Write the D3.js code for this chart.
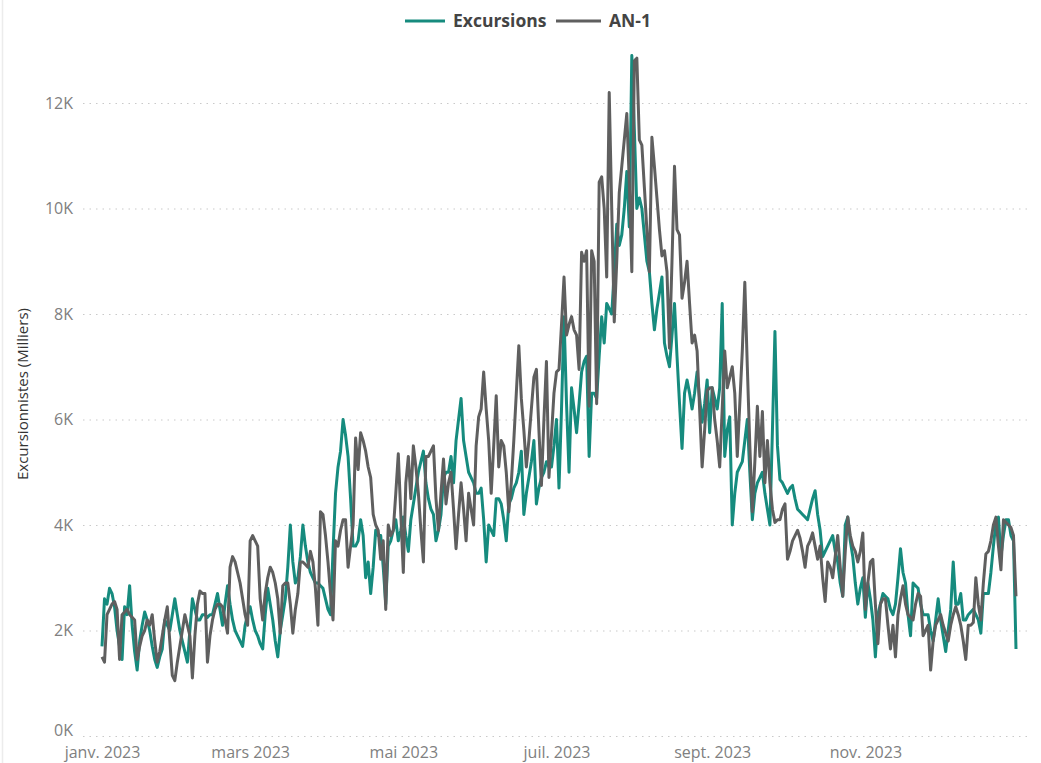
<!DOCTYPE html>
<meta charset="utf-8">
<title>Excursions vs AN-1</title>
<script src="https://cdn.jsdelivr.net/npm/d3@7"></script>
<style>
body { margin: 0; background: #fff; }
svg { display: block; }
text { font-family: "Segoe UI", "Open Sans", "Noto Sans", sans-serif; }
.grid line { stroke: #c9c9c9; stroke-width: 1.2px; stroke-dasharray: 1.5,5; }
.axis text { fill: #808080; font-size: 16px; }
.line { fill: none; stroke-width: 3px; stroke-linejoin: round; }
</style>
<body>
<script>

// daily values, 1 jan 2023 -> 31 dec 2023, in thousands (K)
var excursions = [
1.7,2.6,2.5,2.8,2.7,2.45,2.0, 1.7,1.45,2.45,2.3,2.85,2.1,1.6,
1.25,1.8,2.1,2.35,2.2,2.0,1.7, 1.45,1.3,1.5,1.65,2.2,2.1,2.0,
2.3,2.6,2.3,2.0,1.8,1.6,1.4, 2.0,2.6,2.4,2.2,2.2,2.3,2.3,
2.25,2.3,2.3,2.5,2.7,2.4,2.1, 2.5,2.85,2.5,2.2,2.0,1.9,1.8,
1.7,2.1,2.3,2.45,2.2,2.0,1.9, 1.75,1.65,2.3,2.8,2.5,2.2,1.8,
1.5,2.0,2.3,2.6,3.2,4.0,3.3, 2.9,3.0,3.4,4.0,3.6,3.3,3.1,
3.0,2.9,2.9,2.85,2.8,2.6,2.4, 2.3,3.5,4.6,5.1,5.4,6.0,5.7,
5.3,4.5,3.6,3.6,3.7,4.1,3.8, 3.0,3.3,2.7,3.2,3.9,3.8,3.8,
3.2,2.5,3.6,3.7,3.9,4.1,3.7, 3.9,4.15,3.8,3.5,4.1,4.4,4.7,
5.0,5.2,5.4,4.8,4.5,4.3,4.2, 3.7,3.9,4.2,4.9,5.0,5.0,5.3,
4.8,5.6,6.0,6.4,5.6,5.3,5.0, 4.9,4.8,4.6,4.6,4.7,4.1,3.3,
4.0,3.9,3.8,4.5,4.5,4.4,4.1, 3.7,4.4,4.5,4.7,4.8,5.0,5.4,
4.2,4.6,4.9,5.2,5.6,4.4,4.7, 4.9,5.0,5.2,5.1,5.1,5.5,6.0,
4.7,6.2,7.95,6.3,5.0,6.6,6.2, 5.75,6.3,6.9,7.1,7.2,5.3,6.5,
6.5,6.4,7.2,7.95,7.45,8.2,8.1, 8.0,8.8,9.7,9.3,9.5,10.0,10.7,
9.65,12.9,11.5,10.0,10.2,10.0,9.5, 9.0,8.8,8.2,7.7,8.1,8.4,8.7,
7.45,7.2,7.0,7.6,8.2,7.2,6.3, 5.45,6.5,6.75,6.5,6.2,6.5,6.9,
6.4,5.95,6.3,6.75,5.75,6.6,6.4, 6.2,6.6,8.2,5.3,5.8,6.05,4.0,
4.6,5.0,5.1,5.2,5.6,6.0,5.0, 4.1,4.6,4.8,4.9,5.0,4.6,4.3,
4.0,5.8,7.67,5.5,4.86,4.8,4.7, 4.6,4.7,4.75,4.5,4.3,4.25,4.2,
4.15,4.1,4.3,4.5,4.65,4.2,3.9, 3.4,3.5,3.6,3.7,3.8,3.5,3.3,
2.9,2.65,4.0,4.15,3.7,3.4,2.9, 2.5,2.8,3.0,2.25,2.9,2.6,2.2,
1.5,2.3,2.5,2.7,2.65,2.6,2.4, 2.3,2.5,3.0,3.55,3.1,2.9,2.3,
1.9,2.9,2.85,2.8,2.5,2.3,2.3, 2.3,2.0,1.8,2.2,2.6,2.2,1.9,
1.6,2.0,2.4,3.3,2.5,2.5,2.7, 2.2,2.2,2.3,2.35,2.4,2.3,2.2,
1.95,2.7,2.7,2.7,3.1,3.6,4.05, 4.15,3.4,3.8,4.1,4.1,3.8,3.7,
1.65
];

var anMoins1 = [
1.5,1.4,2.3,2.4,2.5,2.55,2.4, 1.45,2.3,2.35,2.4,2.3,2.25,2.2,
1.45,1.7,1.9,2.0,2.2,2.1,2.3, 1.8,1.4,1.6,1.9,2.2,2.45,1.8,
1.15,1.05,1.4,1.7,2.0,2.3,2.1, 1.9,1.1,1.9,2.5,2.75,2.7,2.7,
1.4,1.9,2.2,2.4,2.5,2.5,2.45, 2.2,1.95,3.2,3.4,3.3,3.1,2.9,
2.6,2.3,2.1,3.7,3.8,3.7,3.6, 2.6,2.2,2.7,3.0,3.2,3.1,2.9,
2.6,1.95,2.85,2.9,2.9,2.5,1.95, 2.4,2.7,3.3,3.3,3.25,3.2,3.5,
3.3,2.8,2.1,4.25,4.2,3.8,3.3, 2.7,2.2,3.7,3.6,3.9,4.1,4.1,
3.2,3.6,4.0,5.65,5.05,5.75,5.6, 5.4,5.1,4.9,4.2,4.0,3.9,3.35,
3.7,2.4,4.0,3.8,3.9,4.6,5.35, 4.2,3.1,4.8,5.3,4.5,5.5,5.1,
4.6,3.9,3.3,5.3,5.3,5.4,5.5, 4.5,3.9,4.6,5.25,4.4,4.8,5.0,
4.3,3.55,4.2,4.8,4.3,3.7,4.6, 4.3,4.0,5.5,6.05,6.2,6.9,6.2,
5.6,4.6,5.5,6.45,5.1,5.6,5.5, 5.0,4.25,4.8,5.6,6.5,7.4,6.4,
5.8,5.1,5.6,6.2,6.8,6.95,5.8, 4.75,6.0,7.1,4.9,5.7,6.5,6.9,
6.95,7.8,8.7,7.6,7.8,7.95,7.7, 7.6,6.95,9.17,9.0,9.2,6.25,9.2,
9.0,6.3,10.5,10.6,10.0,8.7,12.2, 10.0,7.85,9.0,10.3,10.8,11.3,11.8,
10.5,8.8,12.8,12.85,11.3,11.2,10.4, 9.6,8.8,11.35,10.8,10.2,9.6,9.1,
9.2,8.8,7.35,9.0,10.8,9.6,9.5, 8.3,8.6,9.0,8.2,7.45,7.6,7.3,
6.2,5.1,5.8,6.55,6.6,6.6,6.0, 5.6,5.1,6.2,7.3,6.6,6.8,7.0,
6.5,5.3,6.3,7.3,8.6,7.0,5.5, 4.25,5.2,6.25,5.3,6.15,4.8,5.6,
4.8,4.3,4.05,4.1,4.1,4.3,4.4, 3.35,3.5,3.7,3.8,3.9,3.75,3.5,
3.2,3.6,3.7,3.85,3.6,3.35,3.6, 3.0,2.55,3.3,3.2,3.0,3.4,3.8,
3.2,2.65,3.5,4.15,3.8,3.6,3.5, 3.3,3.5,3.85,2.4,2.9,3.3,3.35,
2.5,1.75,2.5,2.6,2.6,2.1,1.65, 2.1,1.5,2.3,2.6,2.85,2.5,2.3,
2.25,2.2,2.5,2.7,2.65,1.9,2.0, 2.1,1.25,1.8,2.1,2.2,2.3,2.1,
1.95,1.8,2.1,2.3,2.45,2.3,2.1, 1.8,1.45,2.1,2.1,2.15,3.0,2.5,
2.2,2.9,3.45,3.5,3.7,4.0,4.15, 3.6,3.15,4.1,4.05,4.0,3.95,3.8,
2.65
];

var seriesNames = ["Excursions", "AN-1"];
var seriesColors = ["#168b7e", "#5f5f5f"];

var yTicks = [0, 2, 4, 6, 8, 10, 12];
var xTickDates = ["2023-01-01", "2023-03-01", "2023-05-01", "2023-07-01", "2023-09-01", "2023-11-01"];
var xTickLabels = ["janv. 2023", "mars 2023", "mai 2023", "juil. 2023", "sept. 2023", "nov. 2023"];

var width = 1041, height = 763;
var parseDay = d3.timeParse("%Y-%m-%d");
var start = parseDay("2023-01-01");

var svg = d3.select("body").append("svg")
    .attr("width", width)
    .attr("height", height);

svg.append("rect").attr("width", width).attr("height", height).attr("fill", "#fff");
// faint frame on the left like the report visual
svg.append("line")
    .attr("x1", 2.5).attr("x2", 2.5).attr("y1", 0).attr("y2", height)
    .attr("stroke", "#ececec").attr("stroke-width", 1.5);

var x = d3.scaleTime()
    .domain([start, parseDay("2023-12-31")])
    .range([102, 1016]);

var y = d3.scaleLinear()
    .domain([0, 12])
    .range([736, 103]);

// grid
svg.append("g")
    .attr("class", "grid")
    .attr("transform", "translate(83,0)")
    .call(d3.axisRight(y).tickValues(yTicks).tickSize(947).tickFormat(""))
    .call(function(g){ g.select(".domain").remove(); });

// y axis labels
var yAxis = svg.append("g")
    .attr("class", "axis")
    .attr("transform", "translate(73,0)")
    .call(d3.axisLeft(y).tickValues(yTicks).tickSize(0).tickPadding(0)
        .tickFormat(function(d){ return d + "K"; }));
yAxis.select(".domain").remove();
// keep the 0K label just clear of the month labels
yAxis.selectAll("text").filter(function(d){ return d === 0; }).attr("dy", "-0.03em");

// x axis labels
var xAxis = svg.append("g")
    .attr("class", "axis")
    .attr("transform", "translate(0,743)")
    .call(d3.axisBottom(x).tickValues(xTickDates.map(parseDay)).tickSize(0).tickPadding(0)
        .tickFormat(function(d, i){ return xTickLabels[i]; }));
xAxis.select(".domain").remove();
xAxis.selectAll("text").attr("dy", "0.93em").attr("fill", "#5a5a5a").attr("font-size", "14.5px");

svg.append("text")
    .attr("transform", "translate(28,394) rotate(-90)")
    .attr("text-anchor", "middle")
    .attr("font-size", "15px")
    .attr("fill", "#333")
    .text("Excursionnistes (Milliers)");

// lines
var line = d3.line()
    .x(function(d, i){ return x(d3.timeDay.offset(start, i)); })
    .y(function(d){ return y(d); });

[excursions, anMoins1].forEach(function(values, k){
  svg.append("path")
      .attr("class", "line")
      .attr("stroke", seriesColors[k])
      .attr("d", line(values));
});

// legend
var legend = svg.append("g").attr("transform", "translate(0,21)");
var legendX = [405, 556];
var legendW = [40, 45];
seriesNames.forEach(function(name, k){
  var g = legend.append("g").attr("transform", "translate(" + legendX[k] + ",0)");
  g.append("line")
      .attr("x1", 0).attr("x2", legendW[k])
      .attr("stroke", seriesColors[k]).attr("stroke-width", 3);
  g.append("text")
      .attr("x", legendW[k] + 8)
      .attr("dy", "0.35em")
      .attr("font-size", "17.5px")
      .attr("font-weight", "bold")
      .attr("fill", "#444")
      .text(name);
});

</script>
</body>
</html>
